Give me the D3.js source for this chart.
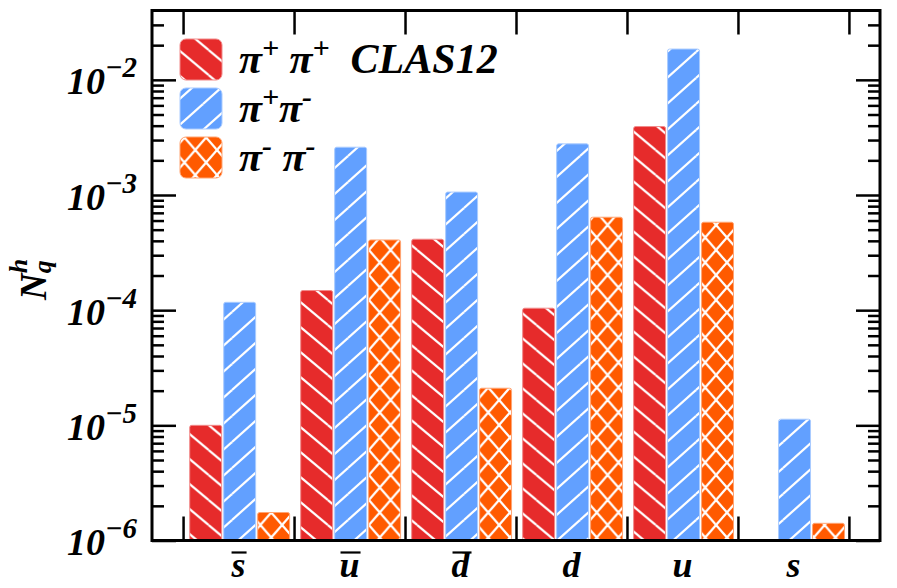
<!DOCTYPE html>
<html>
<head>
<meta charset="utf-8">
<script src="https://cdn.jsdelivr.net/npm/d3@7"></script>
<style>
  html, body { margin: 0; padding: 0; background: #fff; }
  svg { display: block; }
  text { font-family: "Liberation Serif", "Times New Roman", serif; font-weight: bold; font-style: italic; }
</style>
</head>
<body>
<svg id="chart" width="897" height="588"></svg>
<script>
// Quark flavours along the x axis (ids, glyphs, and whether they carry an overbar)
const categories = ["sbar", "ubar", "dbar", "d", "u", "s"];
const categoryGlyphs = ["s", "u", "d", "d", "u", "s"];
const antiquark = [true, true, true, false, false, false];

// N_q^h per flavour for each dihadron channel (null = no bar)
const pipPip = [1.0e-5, 1.48e-4, 4.13e-4, 1.04e-4, 3.93e-3, null];
const pipPim = [1.17e-4, 2.60e-3, 1.06e-3, 2.78e-3, 1.85e-2, 1.13e-5];
const pimPim = [1.75e-6, 4.07e-4, 2.10e-5, 6.41e-4, 5.8e-4, 1.41e-6];

const seriesKeys = ["pipPip", "pipPim", "pimPim"];
const seriesValues = [pipPip, pipPim, pimPim];
const seriesColors = ["#E62B2B", "#62A0FF", "#FF5A00"];

// Legend labels as [text, isSuperscript] runs
const legendLabels = [
  [["π", false], ["+", true], [" π", false], ["+", true], ["  CLAS12", false]],
  [["π", false], ["+", true], ["π", false], ["-", true]],
  [["π", false], ["-", true], [" π", false], ["-", true]]
];

// Y axis decades and minor ticks
const yDomain = [1e-6, 4e-2];
const yMajor = [1e-6, 1e-5, 1e-4, 1e-3, 1e-2];

const svg = d3.select("#chart");
const plot = { left: 152, right: 880, top: 10.5, bottom: 540.5 };

const y = d3.scaleLog().domain(yDomain).range([plot.bottom, plot.top]);
const yMinor = [];
for (let e = -6; e <= -2; e++) for (let m = 2; m <= 9; m++) {
  const v = m * Math.pow(10, e);
  if (v < yDomain[1]) yMinor.push(v);
}

// Group edges sit on integers 0..6
const xEdge = d3.scaleLinear().domain([-0.28, 6.28]).range([plot.left, plot.right]);
const x = d3.scaleBand().domain(categories).range([xEdge(0), xEdge(6)]);
const step = x.step();
const xSub = d3.scaleBand().domain(seriesKeys).range([0.06 * step, 0.96 * step]).paddingInner(0.06);

// Hatch patterns
const defs = svg.append("defs");
function hatchPattern(id, color, w, h, paths) {
  const p = defs.append("pattern").attr("id", id)
    .attr("patternUnits", "userSpaceOnUse").attr("width", w).attr("height", h);
  p.append("rect").attr("width", w).attr("height", h).attr("fill", color);
  const offsets = [[0, 0], [-w, 0], [w, 0], [0, -h], [0, h]];
  paths.forEach(d => offsets.forEach(([dx, dy]) => {
    p.append("path").attr("d", d).attr("transform", `translate(${dx},${dy})`)
      .attr("stroke", "#fff").attr("stroke-width", 2.2).attr("fill", "none");
  }));
}
hatchPattern("hatch-pipPip", seriesColors[0], 29.8, 25, ["M0,0L29.8,25"]);
hatchPattern("hatch-pipPim", seriesColors[1], 29, 26, ["M0,26L29,0"]);
hatchPattern("hatch-pimPim", seriesColors[2], 21.7, 25, ["M0,0L21.7,25", "M21.7,0L0,25"]);

// Bars
const barData = [];
categories.forEach((c, i) => seriesKeys.forEach((k, j) => {
  const v = seriesValues[j][i];
  if (v != null) barData.push({ c, k, v, j });
}));
svg.append("g").selectAll("rect").data(barData).join("rect")
  .attr("x", d => x(d.c) + xSub(d.k))
  .attr("width", xSub.bandwidth())
  .attr("y", d => y(d.v))
  .attr("height", d => y(yDomain[0]) - y(d.v))
  .attr("rx", 2)
  .attr("fill", d => `url(#hatch-${d.k})`)
  .attr("stroke", d => d3.interpolateRgb(seriesColors[d.j], "#fff")(0.45))
  .attr("stroke-width", 1);

// Frame
svg.append("rect")
  .attr("x", plot.left).attr("y", plot.top)
  .attr("width", plot.right - plot.left).attr("height", plot.bottom - plot.top)
  .attr("fill", "none").attr("stroke", "#000").attr("stroke-width", 3);

function styleTicks(g, width) {
  g.select(".domain").remove();
  g.selectAll(".tick line").attr("stroke", "#000").attr("stroke-width", width);
}

// Left axis: major ticks with 10^n labels
svg.append("g").attr("transform", `translate(${plot.left},0)`)
  .call(d3.axisLeft(y).tickValues(yMajor).tickSize(-24).tickPadding(15).tickFormat(() => ""))
  .call(g => styleTicks(g, 2.5))
  .call(g => g.selectAll(".tick text").each(function (d) {
    const t = d3.select(this)
      .attr("dy", 14).attr("font-size", 38).attr("fill", "#000")
      .attr("text-anchor", "end");
    t.text(null);
    t.append("tspan").text("10");
    t.append("tspan").attr("dy", -17).attr("font-size", 29).text("\u2212" + Math.round(-Math.log10(d)));
  }));
svg.append("g").attr("transform", `translate(${plot.left},0)`)
  .call(d3.axisLeft(y).tickValues(yMinor).tickSize(-12).tickFormat(() => ""))
  .call(g => styleTicks(g, 2.5));

// Right axis: inward ticks, no labels
svg.append("g").attr("transform", `translate(${plot.right},0)`)
  .call(d3.axisRight(y).tickValues(yMajor).tickSize(-24).tickFormat(() => ""))
  .call(g => styleTicks(g, 2.5));
svg.append("g").attr("transform", `translate(${plot.right},0)`)
  .call(d3.axisRight(y).tickValues(yMinor).tickSize(-12).tickFormat(() => ""))
  .call(g => styleTicks(g, 2.5));

// Group-edge ticks on bottom and top
const edgeTicks = d3.range(0, categories.length + 1);
svg.append("g").attr("transform", `translate(0,${plot.bottom})`)
  .call(d3.axisTop(xEdge).tickValues(edgeTicks).tickSize(24).tickFormat(() => ""))
  .call(g => styleTicks(g, 2.5));
svg.append("g").attr("transform", `translate(0,${plot.top})`)
  .call(d3.axisBottom(xEdge).tickValues(edgeTicks).tickSize(24).tickFormat(() => ""))
  .call(g => styleTicks(g, 2.5));

// Flavour labels, with an overbar for antiquarks
const xAxis = svg.append("g").attr("transform", `translate(0,${plot.bottom})`)
  .call(d3.axisBottom(x).tickSize(0).tickFormat((c, i) => categoryGlyphs[i]));
xAxis.select(".domain").remove();
xAxis.selectAll(".tick text")
  .attr("y", 36).attr("dy", null).attr("font-size", 36).attr("fill", "#000");
xAxis.selectAll(".tick").each(function (c, i) {
  if (!antiquark[i]) return;
  const tk = d3.select(this);
  const bb = tk.select("text").node().getBBox();
  tk.append("line")
    .attr("x1", bb.x + 1).attr("x2", bb.x + bb.width + 1)
    .attr("y1", 12).attr("y2", 12)
    .attr("stroke", "#000").attr("stroke-width", 2.2);
});

// Y axis title N_q^h
const yTitle = svg.append("text")
  .attr("transform", "translate(46,300) rotate(-90)")
  .attr("font-size", 37).attr("fill", "#000");
yTitle.append("tspan").text("N");
yTitle.append("tspan").attr("font-size", 26).attr("dy", 5).text("q");
yTitle.append("tspan").attr("font-size", 26).attr("dx", -13).attr("dy", -24).text("h");

// Legend
const legend = svg.append("g");
const legendTop = 39, legendGap = 49, swatch = 42;
legendLabels.forEach((runs, i) => {
  const gy = legendTop + i * legendGap;
  legend.append("rect")
    .attr("x", 180).attr("y", gy).attr("width", swatch).attr("height", swatch - 1)
    .attr("rx", 6)
    .attr("fill", `url(#hatch-${seriesKeys[i]})`)
    .attr("stroke", d3.interpolateRgb(seriesColors[i], "#fff")(0.45)).attr("stroke-width", 1);
  const t = legend.append("text")
    .attr("x", 239).attr("y", gy + 34)
    .attr("font-size", 42).attr("fill", "#000")
    .style("white-space", "pre");
  let raised = false;
  runs.forEach(([s, sup]) => {
    const ts = t.append("tspan").text(s);
    if (sup && !raised) { ts.attr("dy", -15).attr("font-size", 30); raised = true; }
    else if (!sup && raised) { ts.attr("dy", 15); raised = false; }
    else if (sup) ts.attr("font-size", 30);
  });
});
</script>
</body>
</html>
